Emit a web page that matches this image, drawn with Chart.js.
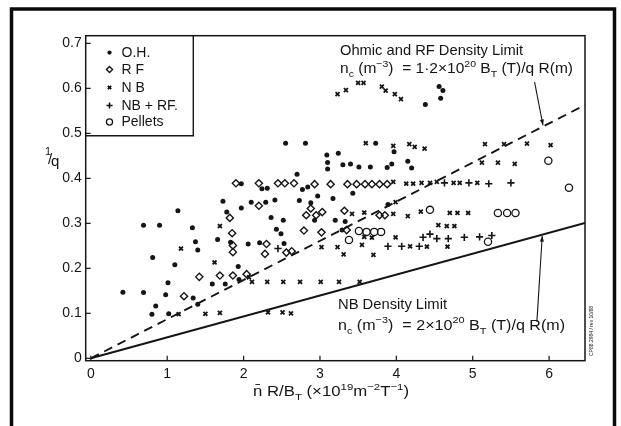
<!DOCTYPE html>
<html>
<head>
<meta charset="utf-8">
<script src="https://cdn.jsdelivr.net/npm/chart.js@4.4.1/dist/chart.umd.min.js"></script>
<style>
html, body { margin: 0; padding: 0; background: #fff; }
#wrap { width: 621px; height: 426px; }
</style>
</head>
<body>
<div id="wrap"><canvas id="myChart" width="621" height="426"></canvas></div>
<script>
// values: [n R / B_T, 1/q]
const ohmic = [[0.42,0.147],[0.69,0.146],[0.69,0.296],[0.90,0.296],[0.81,0.224],[0.85,0.116],[0.80,0.098],[0.98,0.141],[1.01,0.168],[1.02,0.099],[1.10,0.208],[1.14,0.328],[1.33,0.290],[1.37,0.259],[1.40,0.241],[1.34,0.134],[1.40,0.120],[1.59,0.165],[1.66,0.264],[1.73,0.349],[1.78,0.325],[1.83,0.258],[1.76,0.165],[1.93,0.204],[1.94,0.175],[1.97,0.388],[2.10,0.347],[1.97,0.334],[2.06,0.254],[2.21,0.257],[2.53,0.255],[2.24,0.377],[2.31,0.378],[2.29,0.347],[2.41,0.352],[2.36,0.313],[2.52,0.307],[2.43,0.287],[2.49,0.277],[2.55,0.478],[2.81,0.478],[2.70,0.409],[2.77,0.375],[2.84,0.381],[2.73,0.351],[2.88,0.346],[2.97,0.361],[2.93,0.307],[3.17,0.355],[3.20,0.307],[3.33,0.304],[3.29,0.285],[3.43,0.367],[3.09,0.452],[3.24,0.456],[3.10,0.435],[3.10,0.421],[3.30,0.430],[3.40,0.432],[3.51,0.425],[3.66,0.425],[3.73,0.478],[3.88,0.424],[3.94,0.432],[3.97,0.459],[3.89,0.342],[4.15,0.438],[4.20,0.423],[4.38,0.564],[4.56,0.604],[4.61,0.595],[4.58,0.578]];
const rf = [[1.22,0.138],[1.42,0.181],[1.69,0.184],[1.86,0.184],[2.04,0.187],[1.82,0.312],[1.85,0.278],[1.86,0.251],[1.86,0.236],[1.90,0.389],[2.20,0.389],[2.20,0.339],[2.30,0.254],[2.28,0.232],[2.45,0.389],[2.54,0.389],[2.66,0.389],[2.56,0.235],[2.63,0.238],[2.79,0.284],[3.02,0.280],[2.88,0.333],[2.82,0.318],[2.95,0.318],[3.03,0.325],[2.93,0.387],[3.14,0.387],[3.36,0.387],[3.48,0.387],[3.59,0.387],[3.68,0.387],[3.78,0.387],[3.88,0.387],[3.32,0.328],[3.35,0.285],[3.78,0.318],[3.85,0.318]];
const nb = [[1.15,0.098],[1.18,0.244],[1.50,0.099],[1.69,0.101],[1.62,0.213],[1.69,0.294],[2.07,0.180],[2.11,0.170],[2.31,0.170],[2.52,0.170],[2.74,0.170],[3.01,0.170],[3.25,0.170],[3.52,0.170],[2.32,0.102],[2.51,0.102],[2.62,0.100],[3.02,0.247],[3.23,0.247],[3.31,0.231],[3.55,0.252],[3.70,0.230],[3.58,0.270],[3.68,0.268],[3.42,0.321],[3.58,0.324],[3.96,0.321],[4.15,0.316],[3.99,0.347],[3.99,0.269],[4.18,0.249],[4.40,0.248],[4.67,0.248],[3.96,0.392],[4.13,0.388],[4.22,0.388],[4.33,0.390],[4.44,0.390],[4.53,0.392],[4.75,0.390],[4.83,0.390],[5.06,0.390],[4.32,0.326],[4.70,0.323],[4.80,0.323],[4.94,0.323],[4.55,0.296],[4.66,0.294],[4.76,0.294],[3.60,0.478],[3.96,0.472],[4.17,0.476],[4.24,0.470],[4.37,0.466],[5.12,0.435],[5.33,0.435],[5.55,0.432],[5.16,0.476],[5.41,0.476],[5.71,0.477],[6.02,0.474],[3.23,0.587],[3.34,0.596],[3.50,0.612],[3.57,0.612],[3.81,0.604],[3.86,0.595],[3.98,0.587],[4.06,0.576]];
const nbrf = [[2.45,0.244],[3.89,0.249],[4.07,0.249],[4.30,0.249],[4.35,0.269],[4.44,0.276],[4.53,0.266],[4.68,0.266],[4.89,0.269],[5.09,0.270],[5.25,0.273],[4.63,0.390],[4.95,0.390],[5.21,0.388],[5.50,0.390]];
const pellets = [[3.38,0.263],[3.51,0.283],[3.61,0.281],[3.71,0.281],[3.80,0.281],[4.44,0.330],[5.33,0.323],[5.45,0.323],[5.56,0.323],[5.20,0.259],[5.99,0.439],[6.26,0.379]];

// density limit lines
const ohmicLimit = [[0, 0], [6.47, 0.563]];
const nbLimit = [[0, 0], [6.47, 0.301]];

const xTicks = [0, 1, 2, 3, 4, 5, 6];
const xTickLabels = ['0', '1', '2', '3', '4', '5', '6'];
const yTicks = [0, 0.1, 0.2, 0.3, 0.4, 0.5, 0.6, 0.7];
const yTickLabels = ['0', '0.1', '0.2', '0.3', '0.4', '0.5', '0.6', '0.7'];

const legendNames = ['O.H.', 'R F', 'N B', 'NB + RF.', 'Pellets'];

const INK = '#151515';
const FONT = '"Liberation Sans", Arial, Helvetica, sans-serif';
const pts = (arr) => arr.map((p) => ({ x: p[0], y: p[1] }));

const styles = [
    { pointStyle: 'circle', radius: 2.5, fill: INK, bw: 0 },
    { pointStyle: 'rectRot', radius: 3.6, fill: 'rgba(0,0,0,0)', bw: 1.4 },
    { pointStyle: 'crossRot', radius: 2.8, fill: 'rgba(0,0,0,0)', bw: 1.8 },
    { pointStyle: 'cross', radius: 3.6, fill: 'rgba(0,0,0,0)', bw: 1.6 },
    { pointStyle: 'circle', radius: 3.6, fill: 'rgba(0,0,0,0)', bw: 1.3 }
];
const series = [ohmic, rf, nb, nbrf, pellets];

// draw text runs with sub/superscripts, stretched to a given width
function rich(ctx, x, y, runs, size, width) {
    const parts = runs.map((r) => {
        const mode = r[1] || 0;
        const fs = mode ? size * 0.68 : size;
        ctx.font = fs + 'px ' + FONT;
        return { t: r[0], mode, fs, w: ctx.measureText(r[0]).width };
    });
    const total = parts.reduce((a, p) => a + p.w, 0);
    ctx.save();
    ctx.translate(x, y);
    ctx.scale(width ? width / total : 1, 1);
    let cx = 0;
    parts.forEach((p) => {
        ctx.font = p.fs + 'px ' + FONT;
        const dy = p.mode === 1 ? -size * 0.42 : p.mode === -1 ? size * 0.28 : 0;
        ctx.fillText(p.t, cx, dy);
        cx += p.w;
    });
    ctx.restore();
}

function arrow(ctx, x1, y1, x2, y2) {
    ctx.beginPath();
    ctx.moveTo(x1, y1);
    ctx.lineTo(x2, y2);
    ctx.stroke();
    const a = Math.atan2(y2 - y1, x2 - x1);
    ctx.beginPath();
    ctx.moveTo(x2, y2);
    ctx.lineTo(x2 - 6 * Math.cos(a - 0.35), y2 - 6 * Math.sin(a - 0.35));
    ctx.lineTo(x2 - 6 * Math.cos(a + 0.35), y2 - 6 * Math.sin(a + 0.35));
    ctx.closePath();
    ctx.fill();
}

const extras = {
    id: 'extras',
    beforeDraw(chart) {
        const ctx = chart.ctx;
        ctx.save();
        ctx.fillStyle = '#fff';
        ctx.fillRect(0, 0, chart.width, chart.height);
        ctx.restore();
    },
    afterDraw(chart) {
        const ctx = chart.ctx;
        const a = chart.chartArea;
        const xs = chart.scales.x, ys = chart.scales.y;
        ctx.save();
        ctx.strokeStyle = INK;
        ctx.fillStyle = INK;

        // plot box
        ctx.lineWidth = 1.5;
        ctx.strokeRect(a.left, a.top, a.right - a.left, a.bottom - a.top);

        // inward ticks
        ctx.lineWidth = 1.2;
        yTicks.forEach((v) => {
            const py = ys.getPixelForValue(v);
            ctx.beginPath(); ctx.moveTo(a.left, py); ctx.lineTo(a.left + 5, py); ctx.stroke();
        });
        xTicks.forEach((v) => {
            const px = xs.getPixelForValue(v);
            ctx.beginPath(); ctx.moveTo(px, a.bottom); ctx.lineTo(px, a.bottom - 5); ctx.stroke();
        });

        // legend box
        ctx.lineWidth = 1.4;
        ctx.beginPath();
        ctx.moveTo(a.left, 135.7); ctx.lineTo(193.3, 135.7); ctx.lineTo(193.3, a.top);
        ctx.stroke();
        const rowsY = [52.5, 69.5, 87.5, 105.5, 122];
        legendNames.forEach((name, i) => {
            const s = styles[i];
            ctx.save();
            ctx.fillStyle = s.fill;
            ctx.strokeStyle = INK;
            ctx.lineWidth = s.bw;
            Chart.helpers.drawPoint(ctx, { pointStyle: s.pointStyle, radius: s.radius * 0.85, rotation: 0, borderWidth: s.bw }, 109.5, rowsY[i]);
            ctx.restore();
            ctx.font = '14px ' + FONT;
            ctx.textBaseline = 'middle';
            ctx.fillText(name, 121.5, rowsY[i] + 0.5);
        });
        ctx.textBaseline = 'alphabetic';

        // annotations
        rich(ctx, 340, 55, [['Ohmic and RF Density Limit']], 14.5, 183);
        rich(ctx, 340, 73, [['n'], ['c', -1], [' (m'], ['\u22123', 1], [')  = 1\u00b72\u00d710'], ['20', 1], [' B'], ['T', -1], [' (T)/q R(m)']], 14.5, 233);
        rich(ctx, 338, 308.5, [['NB Density Limit']], 14.5, 109);
        rich(ctx, 338, 329.5, [['n'], ['c', -1], [' (m'], ['\u22123', 1], [')  = 2\u00d710'], ['20', 1], [' B'], ['T', -1], [' (T)/q R(m)']], 14.5, 227);

        ctx.lineWidth = 1.1;
        arrow(ctx, xs.getPixelForValue(5.81), ys.getPixelForValue(0.614), xs.getPixelForValue(5.92), ys.getPixelForValue(0.518));
        arrow(ctx, xs.getPixelForValue(5.84), ys.getPixelForValue(0.081), xs.getPixelForValue(5.91), ys.getPixelForValue(0.272));

        // axis titles
        rich(ctx, 253, 396, [['n\u0304 R/B'], ['T', -1], [' (\u00d710'], ['19', 1], ['m'], ['\u22122', 1], ['T'], ['\u22121', 1], [')']], 14, 156);
        ctx.font = '11px ' + FONT;
        ctx.fillText('1', 45, 155);
        ctx.font = '15px ' + FONT;
        ctx.fillText('/', 48, 164);
        ctx.fillText('q', 51, 166);

        // tiny figure code at right edge
        ctx.save();
        ctx.translate(593, 356);
        ctx.rotate(-Math.PI / 2);
        ctx.font = '5px ' + FONT;
        ctx.fillText('CP88.2984 / rev 10/88', 0, 0);
        ctx.restore();

        // outer frame of the scan
        ctx.lineWidth = 3.5;
        ctx.strokeStyle = '#0a0a0a';
        ctx.beginPath();
        ctx.moveTo(11.5, 430); ctx.lineTo(11.5, 9); ctx.lineTo(614.5, 9); ctx.lineTo(614.5, 430);
        ctx.stroke();
        ctx.restore();
    }
};

const datasets = series.map((arr, i) => ({
    type: 'scatter',
    data: pts(arr),
    pointStyle: styles[i].pointStyle,
    pointRadius: styles[i].radius,
    pointBackgroundColor: styles[i].fill,
    pointBorderColor: INK,
    pointBorderWidth: styles[i].bw,
    order: 1
}));
datasets.push({
    type: 'line', data: pts(ohmicLimit), borderColor: INK, borderWidth: 1.9,
    borderDash: [9, 6], pointRadius: 0, fill: false, order: 2
});
datasets.push({
    type: 'line', data: pts(nbLimit), borderColor: INK, borderWidth: 2,
    pointRadius: 0, fill: false, order: 2
});

const tickFont = { family: FONT, size: 14 };

new Chart(document.getElementById('myChart'), {
    type: 'scatter',
    data: { datasets },
    options: {
        responsive: false,
        animation: false,
        events: [],
        layout: { padding: { top: 35.7, right: 36, left: 0, bottom: 0 } },
        plugins: { legend: { display: false }, tooltip: { enabled: false } },
        scales: {
            x: {
                type: 'linear', min: -0.067, max: 6.47,
                afterBuildTicks: (s) => { s.ticks = xTicks.map((v) => ({ value: v })); },
                afterFit: (s) => { s.height = 65.3; },
                ticks: { font: tickFont, color: INK, padding: 5, callback: (v, i) => xTickLabels[i] },
                grid: { display: false, drawTicks: false },
                border: { display: false }
            },
            y: {
                type: 'linear', min: -0.0053, max: 0.717,
                afterBuildTicks: (s) => { s.ticks = yTicks.map((v) => ({ value: v })); },
                afterFit: (s) => { s.width = 85.7; },
                ticks: { font: tickFont, color: INK, padding: 4, callback: (v, i) => yTickLabels[i] },
                grid: { display: false, drawTicks: false },
                border: { display: false }
            }
        }
    },
    plugins: [extras]
});
</script>
</body>
</html>
